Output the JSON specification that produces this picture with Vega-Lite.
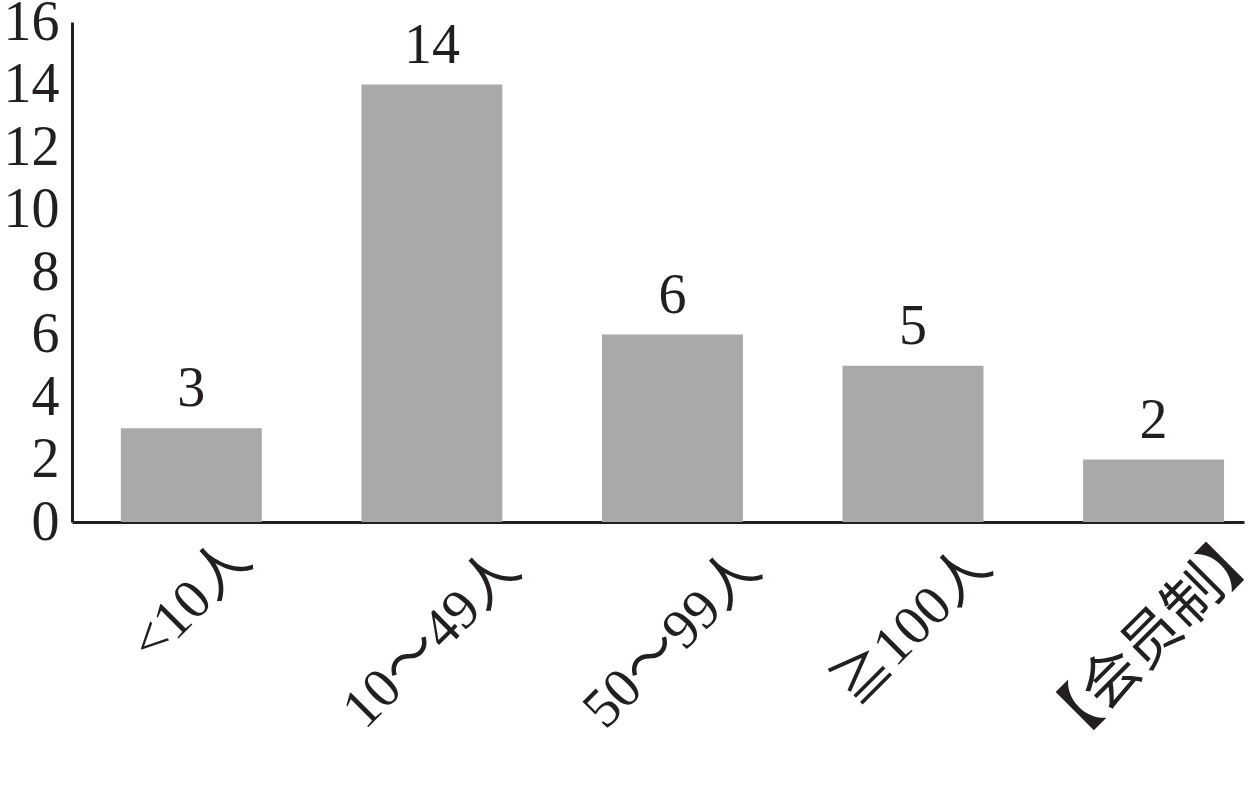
{
  "$schema": "https://vega.github.io/schema/vega-lite/v6.json",
  "autosize": "none",
  "padding": {"left": 72, "top": 22, "right": 12, "bottom": 268},
  "width": 1172,
  "height": 500,
  "background": "white",
  "config": {
    "view": {"stroke": null},
    "font": "Liberation Serif, Noto Sans CJK SC",
    "axis": {"grid": false, "ticks": false, "domainColor": "#231f20", "domainWidth": 3, "labelColor": "#231f20", "labelFont": "Liberation Serif, Noto Sans CJK SC", "title": null}
  },
  "data": {"values": [
    {"cat": "<10人", "v": 3},
    {"cat": "10～49人", "v": 14},
    {"cat": "50～99人", "v": 6},
    {"cat": "≧100人", "v": 5},
    {"cat": "【会员制】", "v": 2}
  ]},
  "encoding": {
    "x": {"field": "cat", "type": "nominal", "sort": null,
      "scale": {"paddingInner": 0.414, "paddingOuter": 0.143, "align": 0.71},
      "axis": {"labelAngle": -45, "labelAlign": "center", "labelBaseline": "middle", "labelLimit": 400,
        "labelFontSize": {"expr": "datum.value == '【会员制】' ? 58 : 56"},
        "labelPadding": {"expr": "datum.value == '<10人' ? 79 : datum.value == '【会员制】' ? 117 : datum.value == '≧100人' ? 104 : 117"}}},
    "y": {"field": "v", "type": "quantitative",
      "scale": {"domain": [0, 16], "nice": false},
      "axis": {"values": [0, 2, 4, 6, 8, 10, 12, 14, 16], "labelFontSize": 56, "labelPadding": 13}}
  },
  "layer": [
    {"mark": {"type": "bar", "color": "#a9a9a9"}},
    {"mark": {"type": "text", "baseline": "alphabetic", "dy": -22, "fontSize": 56, "color": "#231f20", "font": "Liberation Serif"},
     "encoding": {"text": {"field": "v", "type": "quantitative"}}}
  ]
}
